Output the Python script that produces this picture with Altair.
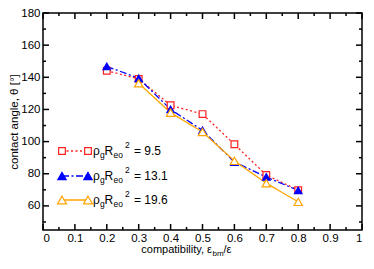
import altair as alt
import pandas as pd

# ---- data ----
compat = [0.2, 0.3, 0.4, 0.5, 0.6, 0.7, 0.8]
series_names = ["9.5", "13.1", "19.6"]
theta_95 = [144.1, 139.0, 122.6, 117.1, 98.3, 79.2, 69.8]
theta_131 = [146.8, 139.4, 120.0, 107.0, 87.3, 78.0, 69.6]
theta_196 = [None, 136.3, 118.0, 106.0, 88.0, 74.1, 62.5]

x_major = [0.0, 0.1, 0.2, 0.3, 0.4, 0.5, 0.6, 0.7, 0.8, 0.9, 1.0]
x_minor = [0.05, 0.15, 0.25, 0.35, 0.45, 0.55, 0.65, 0.75, 0.85, 0.95]
y_major = [60, 80, 100, 120, 140, 160, 180]
y_minor = [50, 70, 90, 110, 130, 150, 170]

colors = ["#ff2020", "#0000ff", "#ffa500"]
fills = ["white", "#0000ff", "white"]
shapes = ["square", "triangle-up", "triangle-up"]
sizes = [45, 70, 80]
dashes = [[2, 2.5], [7, 2.5, 2, 2.5], [1, 0]]

rows = []
for name, vals in zip(series_names, [theta_95, theta_131, theta_196]):
    for c, v in zip(compat, vals):
        if v is not None:
            rows.append({"series": name, "x": c, "y": v})
df = pd.DataFrame(rows)

W, H = 319, 217
FONT = "Liberation Sans"
xs = alt.Scale(domain=[0, 1], nice=False, zero=False)
ys = alt.Scale(domain=[45, 180], nice=False, zero=False)

label_expr = "datum.value == 0 ? '0' : datum.value == 1 ? '1' : format(datum.value, '.1f')"
x_axis = alt.Axis(values=x_major, labelExpr=label_expr, ticks=False, domain=False, grid=False,
                  title=None, labelPadding=2, labelFontSize=11.5, labelFont=FONT, labelColor="black")
y_axis = alt.Axis(values=y_major, ticks=False, domain=False, grid=False,
                  title="contact angle, θ [°]", titleFontSize=11.5, titleFont=FONT,
                  titleFontWeight="normal", titleColor="black", titlePadding=1, labelPadding=3,
                  labelFontSize=11.5, labelFont=FONT, labelColor="black")

base = alt.Chart(df)
lines = base.mark_line(strokeWidth=1.3).encode(
    x=alt.X("x:Q", scale=xs, axis=x_axis),
    y=alt.Y("y:Q", scale=ys, axis=y_axis),
    color=alt.Color("series:N", scale=alt.Scale(domain=series_names, range=colors), legend=None),
    strokeDash=alt.StrokeDash("series:N", scale=alt.Scale(domain=series_names, range=dashes), legend=None),
    order=alt.Order("x:Q"),
)
points = base.mark_point(strokeWidth=1.2, opacity=1, fillOpacity=1).encode(
    x=alt.X("x:Q", scale=xs, axis=x_axis),
    y=alt.Y("y:Q", scale=ys, axis=y_axis),
    shape=alt.Shape("series:N", scale=alt.Scale(domain=series_names, range=shapes), legend=None),
    stroke=alt.Stroke("series:N", scale=alt.Scale(domain=series_names, range=colors), legend=None),
    fill=alt.Fill("series:N", scale=alt.Scale(domain=series_names, range=fills), legend=None),
    size=alt.Size("series:N", scale=alt.Scale(domain=series_names, range=sizes), legend=None),
)

layers = [lines, points]

# ---- inward ticks on all four sides ----
def xticks(vals, length):
    d = alt.Chart(pd.DataFrame({"x": vals}))
    top = d.mark_rule(color="black", strokeWidth=1.5).encode(
        x=alt.X("x:Q", scale=xs, axis=x_axis), y=alt.value(0), y2=alt.value(length))
    bot = d.mark_rule(color="black", strokeWidth=1.5).encode(
        x=alt.X("x:Q", scale=xs, axis=x_axis), y=alt.value(H), y2=alt.value(H - length))
    return [top, bot]

def yticks(vals, length):
    d = alt.Chart(pd.DataFrame({"y": vals}))
    left = d.mark_rule(color="black", strokeWidth=1.5).encode(
        y=alt.Y("y:Q", scale=ys, axis=y_axis), x=alt.value(0), x2=alt.value(length))
    right = d.mark_rule(color="black", strokeWidth=1.5).encode(
        y=alt.Y("y:Q", scale=ys, axis=y_axis), x=alt.value(W), x2=alt.value(W - length))
    return [left, right]

layers += xticks(x_major, 6) + xticks(x_minor, 3) + yticks(y_major, 6) + yticks(y_minor, 3)

# ---- x axis title with subscript ----
def txt(s, x, y, size=12, align="left", dy=0):
    return alt.Chart(pd.DataFrame({"t": [s]})).mark_text(
        align=align, baseline="middle", fontSize=size, font=FONT, color="black", dy=dy
    ).encode(text="t:N", x=alt.value(x), y=alt.value(y))

TY = H + 20
layers += [txt("compatibility, ε", 169, TY, size=11, align="right"),
           txt("bm", 169.5, TY, size=8, dy=3.5),
           txt("/ε", 180.5, TY, size=11)]

# ---- manual legend ----
row_y = [138, 163, 187]
for i, name in enumerate(series_names):
    yy = row_y[i]
    ld = alt.Chart(pd.DataFrame({"series": [name]}))
    layers.append(ld.mark_rule(strokeWidth=1.3, color=colors[i], strokeDash=dashes[i]).encode(
        x=alt.value(19), x2=alt.value(45), y=alt.value(yy)))
    for mx in (19, 45):
        layers.append(ld.mark_point(shape=shapes[i], size=sizes[i], stroke=colors[i], fill=fills[i],
                                    fillOpacity=1, opacity=1, strokeWidth=1.2).encode(
            x=alt.value(mx), y=alt.value(yy)))
    layers += [txt("ρ", 50, yy, size=12),
               txt("g", 57, yy, size=8.5, dy=4),
               txt("R", 61.5, yy, size=12),
               txt("eo", 70.5, yy, size=8.5, dy=4),
               txt("2", 82, yy, size=8.5, dy=-6),
               txt("= " + name, 91, yy, size=12)]

chart = alt.layer(*layers).properties(
    width=W, height=H,
    autosize=alt.AutoSizeParams(type="none"),
    padding={"left": 35, "top": 5, "right": 4, "bottom": 27},
).configure_view(stroke="black", strokeWidth=1.5)

chart.save("out.html", embed_options={"renderer": "svg", "actions": False})
